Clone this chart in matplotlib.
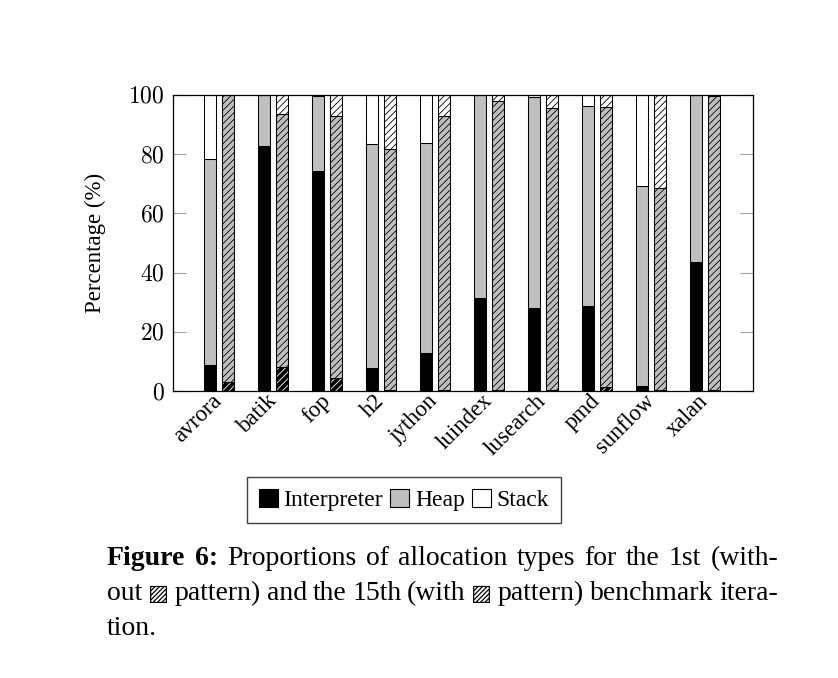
import matplotlib.pyplot as plt
from matplotlib.patches import Patch
import numpy as np

plt.rcParams['font.family'] = ['Liberation Serif', 'DejaVu Sans']
plt.rcParams['mathtext.fontset'] = 'cm'
plt.rcParams['hatch.linewidth'] = 0.6

benchmarks = ['avrora', 'batik', 'fop', 'h2', 'jython', 'luindex',
              'lusearch', 'pmd', 'sunflow', 'xalan']

# 1st iteration (no pattern)
interp_1st = [8.8, 82.8, 74.3, 7.9, 12.7, 31.3, 27.9, 28.8, 1.7, 43.7]
heap_1st = [69.6, 17.2, 25.5, 75.5, 71.2, 68.7, 71.3, 67.6, 67.6, 56.3]
stack_1st = [21.6, 0.0, 0.2, 16.6, 16.1, 0.0, 0.8, 3.6, 30.7, 0.0]

# 15th iteration (hatched)
interp_15th = [3.1, 8.2, 4.5, 0.3, 0.3, 0.5, 0.3, 1.5, 0.2, 0.3]
heap_15th = [96.9, 85.3, 88.5, 81.3, 92.6, 97.6, 95.2, 94.3, 68.3, 99.4]
stack_15th = [0.0, 6.5, 7.0, 18.4, 7.1, 1.9, 4.5, 4.2, 31.5, 0.3]

yticks = [0, 20, 40, 60, 80, 100]

c_interp = 'black'
c_heap = '#bfbfbf'
c_stack = 'white'

fig = plt.figure(figsize=(8.38, 6.78), dpi=100)
ax = fig.add_axes([0.2064, 0.4233, 0.6921, 0.4366])

x = np.arange(len(benchmarks))
w = 0.222
off = 0.166
lw = 0.75

# 1st iteration
b = np.zeros(len(x))
for vals, col in [(interp_1st, c_interp), (heap_1st, c_heap), (stack_1st, c_stack)]:
    ax.bar(x - off, vals, w, bottom=b, color=col, edgecolor='black', linewidth=lw)
    b = b + np.array(vals)

# 15th iteration, hatched
hatch = '/////'
b = np.zeros(len(x))
# interpreter: black fill with white hatch lines
ax.bar(x + off, interp_15th, w, bottom=b, color=c_interp, edgecolor='white',
       linewidth=0, hatch=hatch)
ax.bar(x + off, interp_15th, w, bottom=b, facecolor='none', edgecolor='black',
       linewidth=lw)
b = b + np.array(interp_15th)
for vals, col in [(heap_15th, c_heap), (stack_15th, c_stack)]:
    ax.bar(x + off, vals, w, bottom=b, color=col, edgecolor='black',
           linewidth=lw, hatch=hatch)
    b = b + np.array(vals)

ax.set_xlim(-0.855, 9.89)
ax.set_ylim(0, 100)
ax.set_yticks(yticks)
ax.set_yticklabels([f'${v}$' for v in yticks], fontsize=17)
ax.tick_params(axis='y', direction='in', length=9.5, width=0.8, color='#a0a0a0',
               left=True, right=True, pad=6)
ax.set_xticks(x)
ax.set_xticklabels(benchmarks, rotation=45, ha='right', va='center',
                   rotation_mode='anchor', fontsize=16.5)
ax.tick_params(axis='x', length=0, pad=5)
for s in ax.spines.values():
    s.set_linewidth(0.9)
ax.set_ylabel('Percentage (%)', fontsize=16.5, labelpad=16)

handles = [Patch(facecolor=c_interp, edgecolor='black', linewidth=0.8),
           Patch(facecolor=c_heap, edgecolor='black', linewidth=0.8),
           Patch(facecolor=c_stack, edgecolor='black', linewidth=0.8)]
leg = fig.legend(handles, ['Interpreter', 'Heap', 'Stack'], loc='center',
                 bbox_to_anchor=(0.482, 0.2625), bbox_transform=fig.transFigure,
                 ncol=3, fontsize=17, fancybox=False, framealpha=1,
                 edgecolor='#404040', handlelength=0.8, handleheight=0.8,
                 handletextpad=0.25, columnspacing=0.3, borderpad=0.5)
leg.get_frame().set_linewidth(1.0)

# caption, justified like the paper
cap_size = 20
x_left = 107 / 838
x_right = 778 / 838
lines = [
    (['Figure', '6:'], ['Proportions', 'of', 'allocation', 'types', 'for', 'the', '1st', '(with-'], True),
    ([], ['out', '\u25a8', 'pattern)', 'and', 'the', '15th', '(with', '\u25a8', 'pattern)', 'benchmark', 'itera-'], True),
    ([], ['tion.'], False),
]
baselines = [565, 600, 635]
fig.canvas.draw()
renderer = fig.canvas.get_renderer()
for (bold_words, words, justify), yy in zip(lines, baselines):
    items = [(wd, 'bold') for wd in bold_words] + [(wd, 'normal') for wd in words]
    texts = []
    for wd, weight in items:
        fs = cap_size * 0.8 if wd == '\u25a8' else cap_size
        t = fig.text(0, 1 - yy / 678, wd, fontsize=fs, fontweight=weight,
                     ha='left', va='baseline')
        texts.append(t)
    widths = [t.get_window_extent(renderer).width / fig.bbox.width for t in texts]
    total = sum(widths)
    if justify and len(texts) > 1:
        gap = (x_right - x_left - total) / (len(texts) - 1)
    else:
        gap = 0.3 * cap_size / 72 * 100 / 838
    pos = x_left
    for t, wdt in zip(texts, widths):
        t.set_x(pos)
        pos += wdt + gap

fig.savefig('out.png', dpi=100)
